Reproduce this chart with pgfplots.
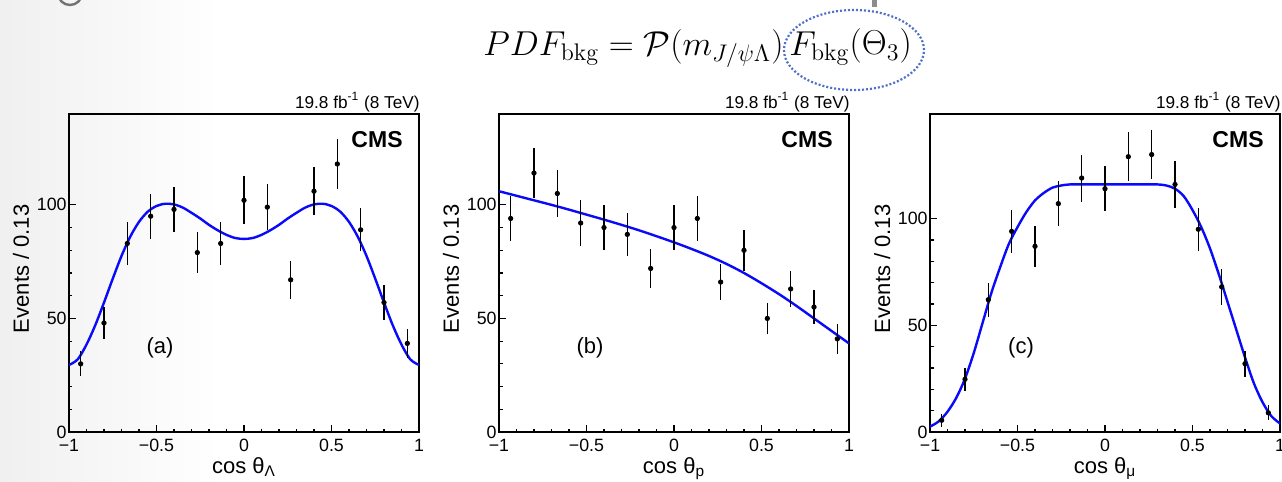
\documentclass[border=0pt]{standalone}
\usepackage{pgfplots}
\pgfplotsset{compat=1.18}
\usepackage[no-math]{fontspec}
\setmainfont{Liberation Sans}
\usetikzlibrary{calc}
\DeclareMathSizes{16}{16}{12.5}{10}
\definecolor{rootblue}{RGB}{10,10,250}
\definecolor{ellblue}{RGB}{80,112,200}

\pgfplotstableread{
x y e
-0.9333 30 5.5
-0.8 48 7
-0.6667 83 9.5
-0.5333 95 10
-0.4 98 10
-0.2667 79 9
-0.1333 83 9.5
0 102 10.5
0.1333 99 10
0.2667 67 8.5
0.4 106 10.5
0.5333 118 11
0.6667 89 9.5
0.8 57 7.5
0.9333 39 6.5
}\dataA
\pgfplotstableread{
x y e
-0.9333 94 10
-0.8 114 11
-0.6667 105 10.5
-0.5333 92 10
-0.4 90 10
-0.2667 87 9.5
-0.1333 72 8.5
0 90 10
0.1333 94 10
0.2667 66 8
0.4 80 9
0.5333 50 7
0.6667 63 8
0.8 55 7.5
0.9333 41 6.5
}\dataB
\pgfplotstableread{
x y e
-0.9333 5.5 3
-0.8 24.7 5.5
-0.6667 62 8
-0.5333 94 10
-0.4 87 9.5
-0.2667 107 10.5
-0.1333 119 11
0 114 10.5
0.1333 129 11.5
0.2667 130 11.5
0.4 116 11
0.5333 95 10
0.6667 68 8.5
0.8 32 6
0.9333 9 3.5
}\dataC

\pgfplotsset{
  rootstyle/.style={
    scale only axis, width=175pt, height=159pt,
    xmin=-1, xmax=1, ymin=0,
    axis line style={line width=1.4pt},
    tick align=inside, xtick pos=bottom, ytick pos=left,
    xtick={-1,-0.5,0,0.5,1},
    xticklabels={−1,−0.5,0,0.5,1},
    ytick={0,50,100},
    minor x tick num=4, minor y tick num=4,
    major tick length=3.5pt, minor tick length=1.75pt,
    every tick/.style={line width=0.6pt, black},
    /pgf/number format/assume math mode=true,
    ticklabel style={font=\fontsize{8.9}{9}\selectfont},
    xticklabel style={anchor=north, inner sep=0pt, yshift=-3.5pt},
    yticklabel style={anchor=east, inner sep=0pt, xshift=-1pt},
    clip=false,
  },
  datastyle/.style={only marks, mark=*, mark size=1.1pt, black,
    error bars/.cd, y dir=both, y explicit, error mark=none,
    error bar style={line width=0.7pt, black}},
  fitstyle/.style={rootblue, line width=1.2pt, smooth, no marks},
}

\newcommand{\decor}[2]{%
  \node[anchor=base east, inner sep=0pt, font=\fontsize{8.6}{9}\selectfont] at ($(rel axis cs:1,1)+(0.5pt,3pt)$) {19.8 fb\textsuperscript{-1} (8 TeV)};
  \node[anchor=north east, inner sep=0pt, font=\fontsize{11.5}{12}\selectfont\bfseries] at ($(rel axis cs:1,1)+(-8pt,-8.5pt)$) {CMS};
  \node[inner sep=0pt, font=\fontsize{11}{12}\selectfont] at (rel axis cs:0.26,0.265) {(#1)};
  \node[rotate=90, anchor=base, inner sep=0pt, font=\fontsize{11}{12}\selectfont] at ($(rel axis cs:0,0.513)+(-20pt,0pt)$) {Events / 0.13};
  \node[anchor=base, inner sep=0pt, font=\fontsize{11}{12}\selectfont] at ($(rel axis cs:0.5,0)+(0pt,-20.5pt)$) {cos θ\textsubscript{#2}};
}

\begin{document}
\begin{tikzpicture}
\useasboundingbox (0,0) rectangle (641pt,-241pt);
\shade[left color=black!6, right color=white] (0,0) rectangle (110pt,-241pt);
% slide decorations
\draw[black!55, line width=1.2pt] (35pt,3.5pt) circle (6pt);
\fill[black!45] (436pt,0pt) rectangle (438.5pt,-3.5pt);
% formula
\node[anchor=base west, inner sep=0pt, font=\fontsize{16}{18}\selectfont] at (241.5pt,-27.5pt)
  {$PDF_{\mathrm{bkg}} = \mathcal{P}(m_{J/\psi\Lambda})\,F_{\mathrm{bkg}}\bigl(\Theta_3\bigr)$};
\draw[ellblue, line width=1.1pt, dash pattern=on 1pt off 1pt] (427pt,-25pt) ellipse (35pt and 20pt);

% panel a
\begin{axis}[rootstyle, at={(34.5pt,-216pt)}, anchor=south west, ymax=140]
\addplot[fitstyle] coordinates {
(-1,29.5) (-0.95,32) (-0.9,38.5) (-0.85,47) (-0.8,57) (-0.75,67.5) (-0.7,77.5)
(-0.65,86) (-0.6,92.5) (-0.55,97) (-0.5,99.5) (-0.45,100.5) (-0.4,100.2)
(-0.35,98.8) (-0.3,96.5) (-0.25,94) (-0.2,91.2) (-0.15,88.8) (-0.1,86.8)
(-0.05,85.4) (0,85) (0.05,85.4) (0.1,86.8) (0.15,88.8) (0.2,91.2) (0.25,94)
(0.3,96.5) (0.35,98.8) (0.4,100.2) (0.45,100.5) (0.5,99.5) (0.55,97) (0.6,92.5)
(0.65,86) (0.7,77.5) (0.75,67.5) (0.8,57) (0.85,47) (0.9,38.5) (0.95,32) (1,29.5)};
\addplot[datastyle] table[x=x, y=y, y error=e] {\dataA};
\decor{a}{Λ}
\end{axis}

% panel b
\begin{axis}[rootstyle, at={(249.5pt,-216pt)}, anchor=south west, ymax=140]
\addplot[fitstyle] coordinates {
(-1,106) (-0.9,104) (-0.8,102) (-0.7,100) (-0.6,97.9) (-0.5,95.7) (-0.4,93.5)
(-0.3,91.2) (-0.2,88.8) (-0.1,86.2) (0,83.5) (0.1,80.6) (0.2,77.5) (0.3,74)
(0.4,70) (0.5,65.5) (0.6,60.7) (0.7,55.5) (0.8,50) (0.9,44.5) (1,39)};
\addplot[datastyle] table[x=x, y=y, y error=e] {\dataB};
\decor{b}{p}
\end{axis}

% panel c
\begin{axis}[rootstyle, at={(465pt,-216pt)}, anchor=south west, ymax=149]
\addplot[fitstyle] coordinates {
(-1,2.5) (-0.95,5) (-0.9,9.5) (-0.85,16) (-0.8,25) (-0.75,37) (-0.7,51)
(-0.65,65) (-0.6,77) (-0.55,88) (-0.5,96) (-0.45,103) (-0.4,108.5) (-0.35,112)
(-0.3,114.5) (-0.25,115.5) (-0.2,116) (-0.1,116) (0,116) (0.1,116) (0.2,116)
(0.3,116) (0.35,115.5) (0.4,114) (0.45,110.5) (0.5,104) (0.55,96) (0.6,86)
(0.65,74) (0.7,61) (0.75,48) (0.8,35) (0.85,23) (0.9,14) (0.95,7.5) (1,4)};
\addplot[datastyle] table[x=x, y=y, y error=e] {\dataC};
\decor{c}{μ}
\end{axis}
\end{tikzpicture}
\end{document}
